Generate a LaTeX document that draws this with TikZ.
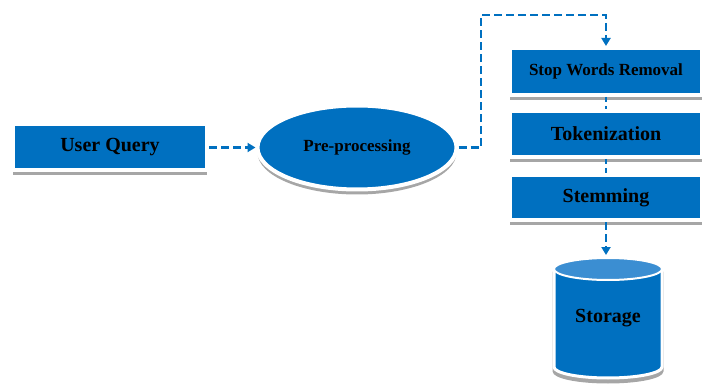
\documentclass[tikz,border=0pt]{standalone}
\usepackage{fontspec}
\setmainfont{Liberation Serif}
\usetikzlibrary{shadows,arrows.meta,shapes.geometric}
\definecolor{boxblue}{HTML}{0070C0}
\definecolor{capblue}{HTML}{3B8ED2}
\definecolor{rimgray}{HTML}{A6A6A6}
\begin{document}
\begin{tikzpicture}[x=1pt,y=-1pt,
  stage/.style={rectangle, fill=boxblue, draw=white, line width=4pt,
    text=black, inner sep=0pt,
    drop shadow={shadow xshift=0pt, shadow yshift=-5pt, fill=rimgray, opacity=1}},
  big/.style={font=\bfseries\fontsize{20}{24}\selectfont},
  mid/.style={font=\bfseries\fontsize{17}{20}\selectfont},
  flow/.style={draw=boxblue, line width=2.6pt, dash pattern=on 8pt off 4pt,
    -{Triangle[length=8pt,width=9pt]}},
  link/.style={draw=boxblue, line width=2.6pt, dash pattern=on 5pt off 4pt}]
  \useasboundingbox (0,0) rectangle (702,385);

  % input and pre-processing
  \node[stage, big, minimum width=194pt, minimum height=46pt] (query) at (110,147.5) {User Query};
  \node[stage, ellipse, mid, minimum width=199pt, minimum height=84pt] (pre) at (357,147.5) {Pre-processing};

  % pre-processing steps
  \node[stage, mid, minimum width=192pt, minimum height=47pt] (stop) at (606,71.5) {Stop Words Removal};
  \node[stage, big, minimum width=192pt, minimum height=46pt] (tok) at (606,134) {Tokenization};
  \node[stage, big, minimum width=192pt, minimum height=45pt] (stem) at (606,197.5) {Stemming};

  % storage cylinder
  \filldraw[rimgray, line width=3pt, shift={(0,4)}]
    (554,269) -- (554,367) arc[start angle=180, end angle=0, x radius=54, y radius=11]
    -- (662,269) -- cycle;
  \filldraw[fill=boxblue, draw=white, line width=3pt]
    (554,269) -- (554,367) arc[start angle=180, end angle=0, x radius=54, y radius=11]
    -- (662,269) -- cycle;
  \filldraw[fill=capblue, draw=white, line width=2pt] (608,269) ellipse[x radius=54, y radius=11];
  \node[big, text=black] (storage) at (608,318) {Storage};
  \coordinate (cyltop) at (606,255);

  % connectors
  \coordinate (bend) at (481,15);
  \draw[flow] (query.east) -- (pre.west);
  \draw[flow] (pre.east) -| (bend) -| (stop.north);
  \draw[link] (stop.south) -- (tok.north);
  \draw[link] (tok.south) -- (stem.north);
  \draw[flow] (stem.south) -- (cyltop);
\end{tikzpicture}
\end{document}
